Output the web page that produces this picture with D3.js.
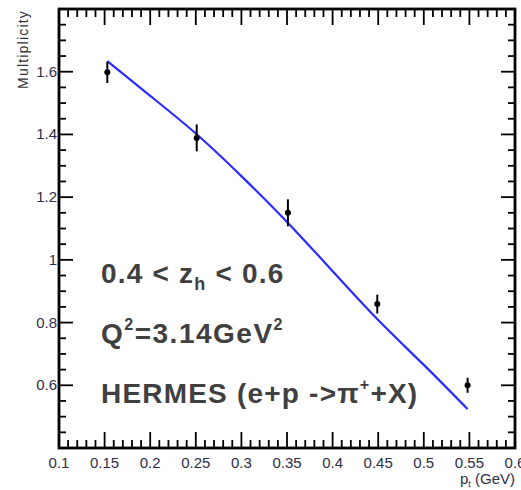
<!DOCTYPE html>
<html><head><meta charset="utf-8">
<script src="https://cdn.jsdelivr.net/npm/d3@7"></script>
<style>body{margin:0;background:#fff;} svg{display:block;}</style>
</head><body>
<svg id="c" width="521" height="490"></svg>
<script>
// ---- data ----
const ptValues   = [0.153, 0.251, 0.351, 0.449, 0.548];
const multValues = [1.598, 1.389, 1.150, 0.859, 0.600];
const multErrors = [0.034, 0.043, 0.043, 0.030, 0.024];
const curvePt    = [0.153, 0.20, 0.25, 0.30, 0.35, 0.40, 0.45, 0.50, 0.548];
const curveMult  = [1.634, 1.523, 1.403, 1.267, 1.121, 0.964, 0.808, 0.665, 0.524];
const xTickLabels = ["0.1","0.15","0.2","0.25","0.3","0.35","0.4","0.45","0.5","0.55","0.6"];
const yTickValues = [0.6, 0.8, 1.0, 1.2, 1.4, 1.6];
const yTickLabels = ["0.6","0.8","1","1.2","1.4","1.6"];

const svg = d3.select("#c");
const L = 59, R = 515, T = 9, B = 448;
const x = d3.scaleLinear().domain([0.1, 0.6]).range([L, R]);
const y = d3.scaleLinear().domain([0.4, 1.8]).range([B, T]);
const font = "'Liberation Sans', Arial, Helvetica, sans-serif";
const labCol = "#2e2e48";

// minor / major ticks
const xMinor = d3.range(0, 51).map(i => 0.1 + i*0.01);
const yMinor = d3.range(0, 29).map(i => 0.4 + i*0.05);
const tg = svg.append("g").attr("stroke", "#000").attr("stroke-width", 1.8);
xMinor.forEach((v, i) => {
  const major = i % 5 === 0;
  const len = major ? 16 : 8;
  tg.append("line").attr("x1", x(v)).attr("x2", x(v)).attr("y1", B).attr("y2", B - len);
  tg.append("line").attr("x1", x(v)).attr("x2", x(v)).attr("y1", T).attr("y2", T + len);
});
yMinor.forEach((v, i) => {
  const major = i % 4 === 0;
  const len = major ? 14 : 7;
  tg.append("line").attr("y1", y(v)).attr("y2", y(v)).attr("x1", L).attr("x2", L + len);
  tg.append("line").attr("y1", y(v)).attr("y2", y(v)).attr("x1", R).attr("x2", R - len);
});

// frame
svg.append("rect").attr("x", L).attr("y", T).attr("width", R - L).attr("height", B - T)
  .attr("fill", "none").attr("stroke", "#000").attr("stroke-width", 2.8);

// x tick labels
xTickLabels.forEach((t, i) => {
  svg.append("text").attr("x", x(0.1 + i*0.05)).attr("y", 468)
    .attr("text-anchor", "middle").attr("font-family", font).attr("font-size", 15)
    .attr("fill", labCol).text(t);
});
// y tick labels
yTickValues.forEach((v, i) => {
  svg.append("text").attr("x", 57).attr("y", y(v) + 5)
    .attr("text-anchor", "end").attr("font-family", font).attr("font-size", 15)
    .attr("fill", labCol).text(yTickLabels[i]);
});

// axis titles
svg.append("text").attr("transform", "translate(28,10) rotate(-90)")
  .attr("text-anchor", "end").attr("font-family", font).attr("font-size", 14)
  .attr("letter-spacing", 1.2).attr("fill", "#333").text("Multiplicity");
const xt = svg.append("text").attr("x", 515).attr("y", 484).attr("text-anchor", "end")
  .attr("font-family", font).attr("font-size", 15).attr("fill", labCol);
xt.append("tspan").text("p");
xt.append("tspan").attr("font-size", 9).attr("dy", 3).text("t");
xt.append("tspan").attr("dy", -3).text(" (GeV)");

// curve
const line = d3.line().curve(d3.curveNatural).x(d => x(d[0])).y(d => y(d[1]));
svg.append("path").datum(curvePt.map((p, i) => [p, curveMult[i]]))
  .attr("d", line).attr("fill", "none").attr("stroke", "#2b2bff").attr("stroke-width", 2.2);

// data points
const pg = svg.append("g");
ptValues.forEach((p, i) => {
  pg.append("line").attr("x1", x(p)).attr("x2", x(p))
    .attr("y1", y(multValues[i] - multErrors[i])).attr("y2", y(multValues[i] + multErrors[i]))
    .attr("stroke", "#000").attr("stroke-width", 2);
  pg.append("circle").attr("cx", x(p)).attr("cy", y(multValues[i])).attr("r", 3).attr("fill", "#000");
});

// annotations
const annCol = "#404040";
const a1 = svg.append("text").attr("x", 101).attr("y", 283).attr("font-family", font)
  .attr("font-weight", "bold").attr("font-size", 28).attr("letter-spacing", 1.2).attr("fill", annCol);
a1.append("tspan").text("0.4 < z");
a1.append("tspan").attr("font-size", 18).attr("dy", 7).text("h");
a1.append("tspan").attr("dy", -7).text(" < 0.6");
const a2 = svg.append("text").attr("x", 101).attr("y", 343).attr("font-family", font)
  .attr("font-weight", "bold").attr("font-size", 28).attr("letter-spacing", 1.5).attr("fill", annCol);
a2.append("tspan").text("Q");
a2.append("tspan").attr("font-size", 16).attr("dy", -13).text("2");
a2.append("tspan").attr("dy", 13).text("=3.14GeV");
a2.append("tspan").attr("font-size", 16).attr("dy", -13).text("2");
const a3 = svg.append("text").attr("x", 101).attr("y", 403).attr("font-family", font)
  .attr("font-weight", "bold").attr("font-size", 28).attr("letter-spacing", 1.2).attr("fill", annCol);
a3.append("tspan").text("HERMES (e+p ->\u03C0");
a3.append("tspan").attr("font-size", 16).attr("dy", -13).text("+");
a3.append("tspan").attr("dy", 13).text("+X)");
</script>
</body></html>
